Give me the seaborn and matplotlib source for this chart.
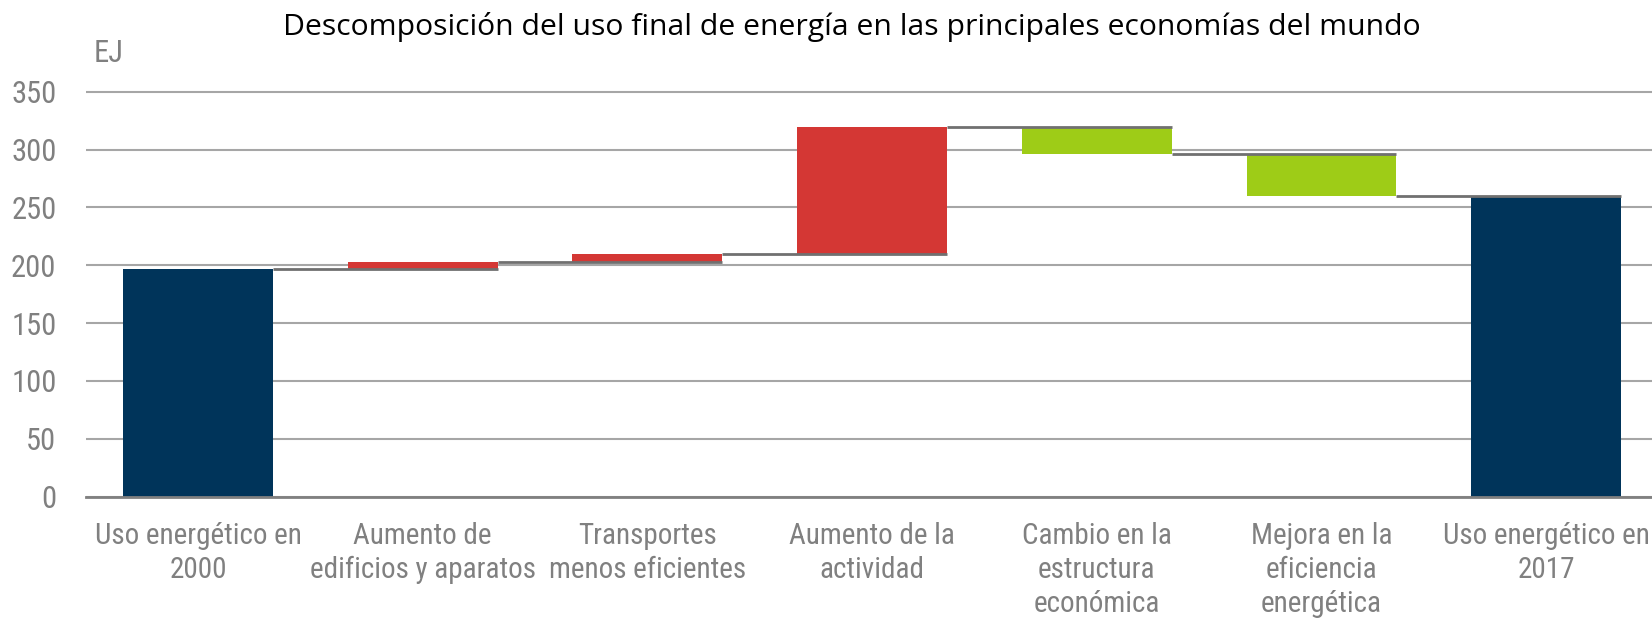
import matplotlib
matplotlib.use("Agg")
import matplotlib.pyplot as plt
import seaborn as sns
import pandas as pd

# ---- data ----
categories = [
    "Uso energético en\n2000",
    "Aumento de\nedificios y aparatos",
    "Transportes\nmenos eficientes",
    "Aumento de la\nactividad",
    "Cambio en la\nestructura\neconómica",
    "Mejora en la\neficiencia\nenergética",
    "Uso energético en\n2017",
]
changes = [197, 6, 7, 110, -23.5, -36.5, 260]   # EJ; first/last are totals
kinds = ["total", "up", "up", "up", "down", "down", "total"]
y_ticks = [0, 50, 100, 150, 200, 250, 300, 350]
title = "Descomposición del uso final de energía en las principales economías del mundo"
y_unit = "EJ"

kind_colors = {"total": "#00345A", "up": "#D43734", "down": "#9ECC17"}

# ---- waterfall geometry from data ----
bases, heights, levels = [], [], []
running = 0.0
for k, c in zip(kinds, changes):
    if k == "total":
        bases.append(0.0)
        heights.append(c)
        running = c
    else:
        new = running + c
        bases.append(min(running, new))
        heights.append(abs(c))
        running = new
    levels.append(running)

df = pd.DataFrame({"cat": categories, "height": heights, "base": bases})

sns.set_theme(style="white")
narrow = ["Roboto Condensed", "DejaVu Sans"]
plt.rcParams["font.family"] = narrow

fig = plt.figure(figsize=(16.52, 6.25), dpi=100)
ax = fig.add_axes([85.65 / 1652, 128.5 / 625, 1572.9 / 1652, 416.2 / 625])

bar_w = 0.667
palette = [kind_colors[k] for k in kinds]
sns.barplot(data=df, x="cat", y="height", hue="cat", palette=palette,
            legend=False, width=bar_w, ax=ax, saturation=1, zorder=2)
for patch, b in zip(ax.patches, bases):
    patch.set_y(b)
    patch.set_edgecolor("none")

# connector lines
for i in range(len(categories) - 1):
    ax.hlines(levels[i], i + bar_w / 2, i + 1 + bar_w / 2,
              colors="#707070", linewidth=2.0, zorder=3)

ax.set_xlim(-0.5, 6.5)
ax.set_ylim(0, 360)
ax.set_yticks(y_ticks)
ax.set_yticklabels([str(t) for t in y_ticks])
ax.yaxis.grid(True, color="#A6A6A6", linewidth=1.5, zorder=0)
ax.set_axisbelow(True)
ax.set_xlabel("")
ax.set_ylabel("")

for s in ["top", "right", "left"]:
    ax.spines[s].set_visible(False)
ax.spines["bottom"].set_color("#808080")
ax.spines["bottom"].set_linewidth(2.0)
ax.spines["bottom"].set_zorder(4)

ax.tick_params(axis="y", length=0, labelsize=22, labelcolor="#808080", pad=21)
ax.tick_params(axis="x", length=0, labelsize=21, labelcolor="#808080", pad=18)
for lbl in ax.get_xticklabels():
    lbl.set_linespacing(1.28)

fig.text(94 / 1652, 1 - 54 / 625, y_unit, fontsize=22, color="#808080",
         ha="left", va="center", family=narrow)
fig.text(852 / 1652, 1 - 27 / 625, title, fontsize=21.7, color="black",
         ha="center", va="center", family=["Open Sans", "DejaVu Sans"])

fig.savefig("out.png", dpi=100, facecolor="white")
